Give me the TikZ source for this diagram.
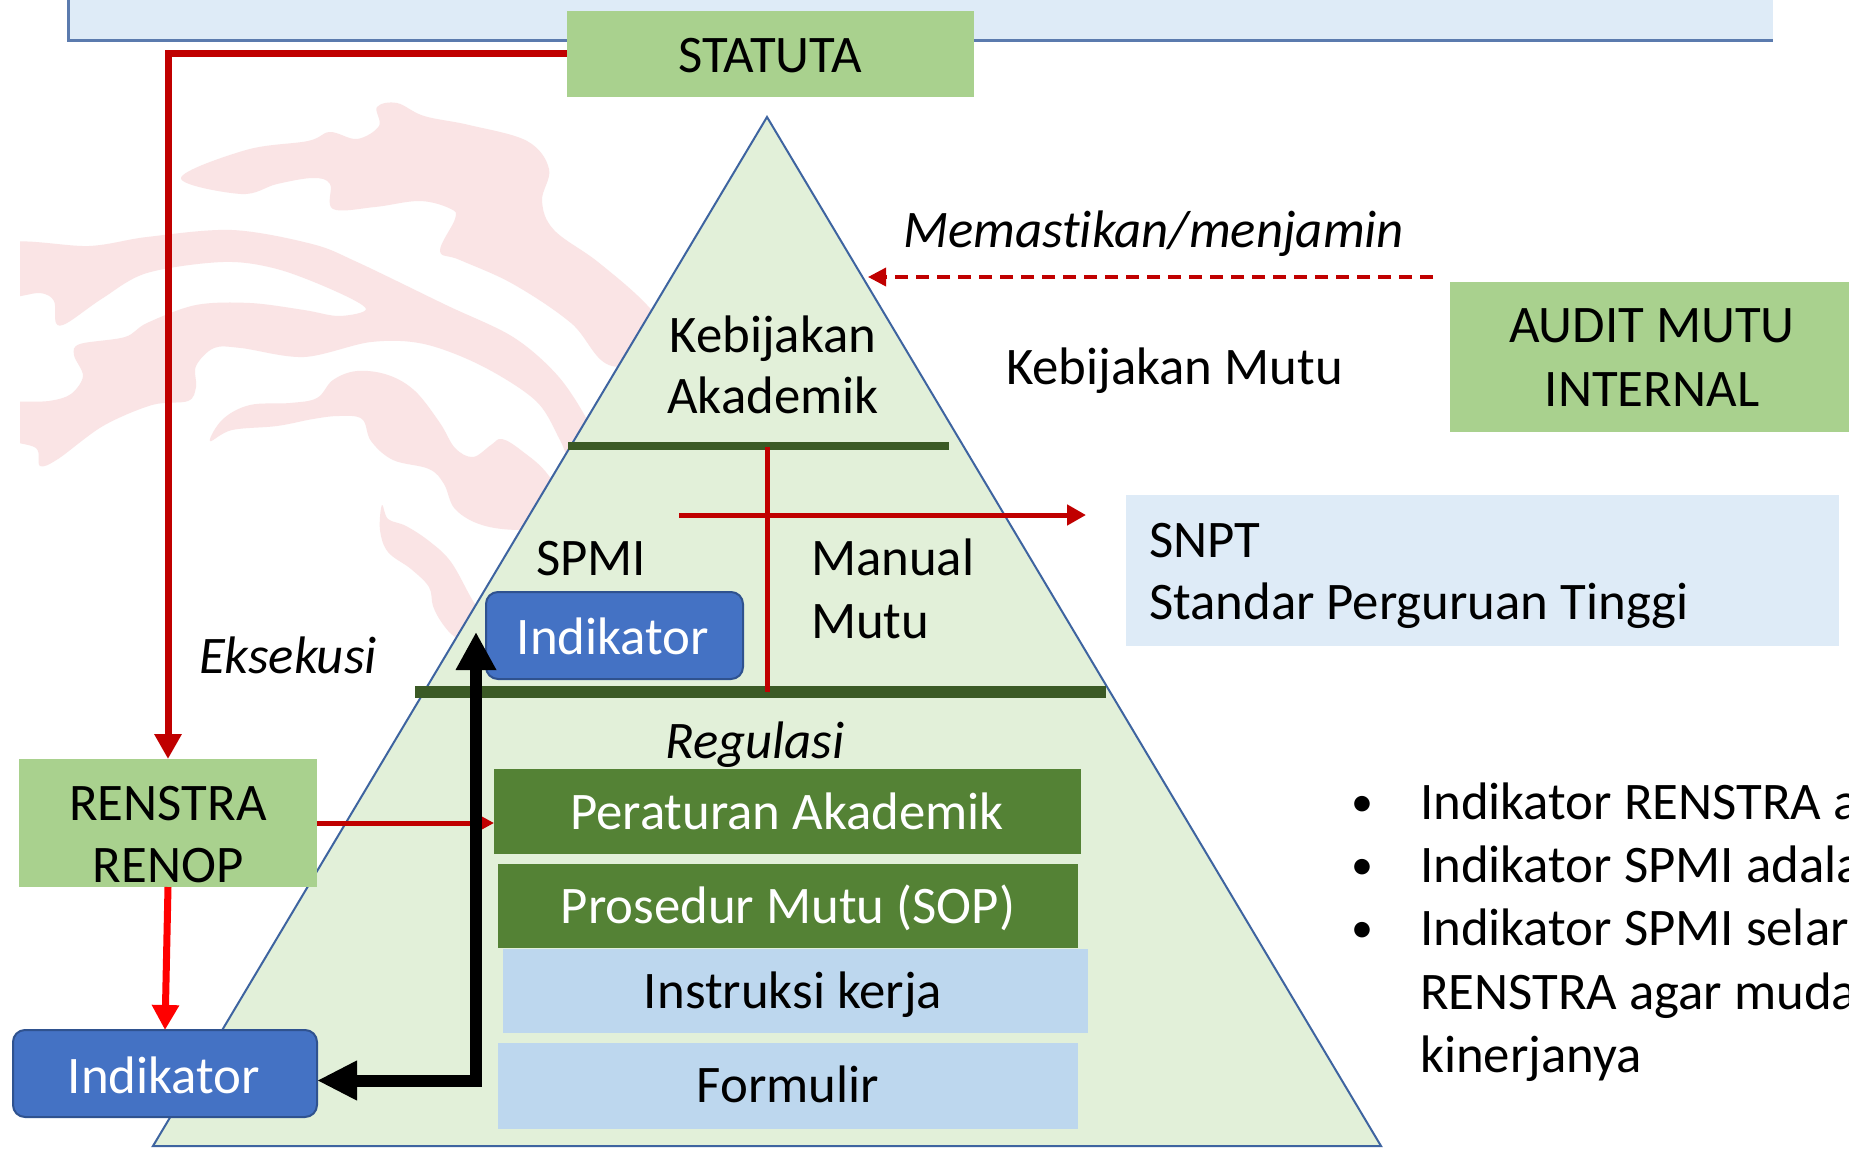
\documentclass[tikz,border=0pt]{standalone}
\usepackage{fontspec}
\setmainfont{Carlito}[Ligatures={NoCommon}]
\usetikzlibrary{arrows.meta}
\definecolor{topfill}{HTML}{DEEBF7}
\definecolor{topline}{HTML}{5B7BAE}
\definecolor{lgreen}{HTML}{A9D18E}
\definecolor{dgreen}{HTML}{548235}
\definecolor{bargreen}{HTML}{3B5A25}
\definecolor{lblue}{HTML}{BDD7EE}
\definecolor{pblue}{HTML}{DEEBF7}
\definecolor{indblue}{HTML}{4472C4}
\definecolor{indline}{HTML}{2F528F}
\definecolor{trifill}{HTML}{E2F0D9}
\definecolor{triline}{HTML}{3E64A0}
\definecolor{darkred}{HTML}{C00000}
\definecolor{wmpink}{RGB}{250,228,229}
\begin{document}
\begin{tikzpicture}[x=1pt,y=-1pt,
  box/.style={rectangle, inner sep=0pt, outer sep=0pt, draw=none},
  indbox/.style={rectangle, rounded corners=12pt, fill=indblue, draw=indline, line width=2pt, inner sep=0pt, outer sep=0pt},
  bar/.style={rectangle, inner sep=0pt, outer sep=0pt, fill=bargreen},
  txt/.style={inner sep=0pt, outer sep=0pt, anchor=base, font=\fontsize{52.8}{62}\selectfont},
  ltxt/.style={txt, anchor=base west},
  itxt/.style={txt, font=\fontsize{52.8}{62}\selectfont\itshape},
  wtxt/.style={txt, text=white},
  bultxt/.style={txt, font=\fontsize{44}{50}\selectfont},
  redthick/.style={darkred, line width=7pt},
  redthin/.style={darkred, line width=5pt}
]
\useasboundingbox (0,0) rectangle (1849,1148);
\clip (0,0) rectangle (1849,1148);
\fill[white] (0,0) rectangle (1849,1148);

% watermark
\begin{scope}
\clip (20,0) rectangle (1849,1148);
\fill[wmpink] plot[smooth cycle, tension=0.6] coordinates {(181,178) (246,150) (308,141) (330,132) (357,139) (379,126) (377,107) (397,103) (424,116) (469,125) (527,141) (549,169) (542,201) (554,230) (598,262) (647,305) (680,350) (612,366) (571,323) (513,284) (460,260) (440,251) (455,219) (451,209) (420,201) (375,207) (333,209) (330,184) (313,178) (277,184) (241,194)};
\fill[wmpink] plot[smooth cycle, tension=0.55] coordinates {(5,244) (89,246) (147,237) (232,230) (312,244) (357,262) (446,305) (513,337) (558,376) (589,423) (610,470) (575,470) (560,440) (536,401) (482,366) (424,344) (371,342) (304,357) (241,348) (214,348) (196,366) (196,387) (188,401) (152,405) (103,426) (58,459) (40,466) (36,448) (5,437) (5,405) (49,401) (71,394) (83,376) (74,355) (80,344) (125,337) (147,323) (196,305) (250,303) (304,310) (339,316) (366,309) (335,291) (277,269) (223,262) (147,273) (103,298) (67,323) (56,323) (54,301) (40,293) (5,294)};
\fill[wmpink] plot[smooth cycle, tension=0.6] coordinates {(210,441) (223,419) (250,405) (290,403) (317,398) (333,380) (357,371) (388,375) (415,391) (440,423) (455,448) (473,457) (491,445) (502,439) (522,451) (549,476) (575,525) (522,530) (482,525) (455,509) (444,484) (429,469) (393,460) (371,441) (362,419) (339,416) (313,419) (277,426) (232,430)};
\fill[wmpink] plot[smooth cycle, tension=0.6] coordinates {(382,505) (388,519) (406,526) (429,541) (451,562) (473,601) (490,625) (470,640) (455,637) (442,623) (433,606) (429,587) (411,569) (388,552) (380,530)};
\end{scope}

% top bar
\fill[topfill] (68,-10) rectangle (1773,41);
\draw[topline, line width=3pt] (68,-10) -- (68,41) -- (1773,41);

% pyramid
\filldraw[fill=trifill, draw=triline, line width=2pt] (767,117) -- (1381,1146) -- (153,1146) -- cycle;

% boxes
\node[box, fill=lgreen, minimum width=407pt, minimum height=86pt] (statuta) at (770.5,54) {};
\node[box, fill=lgreen, minimum width=410pt, minimum height=150pt] (audit) at (1655,357) {};
\node[box, fill=pblue, minimum width=713pt, minimum height=151pt] (snpt) at (1482.5,570.5) {};
\node[box, fill=lgreen, minimum width=298pt, minimum height=128pt] (renstra) at (168,823) {};
\node[box, fill=dgreen, minimum width=587pt, minimum height=85pt] (peraturan) at (787.5,811.5) {};
\node[box, fill=dgreen, minimum width=580pt, minimum height=84pt] (prosedur) at (788,906) {};
\node[box, fill=lblue, minimum width=585pt, minimum height=84pt] (instruksi) at (795.5,991) {};
\node[box, fill=lblue, minimum width=580pt, minimum height=86pt] (formulir) at (788,1086) {};
\node[indbox, minimum width=257pt, minimum height=87pt] (upInd) at (614.5,635.5) {};
\node[indbox, minimum width=304pt, minimum height=87pt] (lowInd) at (165,1073.5) {};

% bars
\node[bar, minimum width=381pt, minimum height=8pt] (bar1) at (758.5,446) {};
\node[bar, minimum width=691pt, minimum height=12pt] (bar2) at (760.5,692) {};

% red cross
\coordinate (crossTop) at (767,447);
\draw[redthin] (crossTop) -- (crossTop |- bar2.center);
\coordinate (crossL) at (679,515);
\coordinate (crossR) at (1086,515);
\draw[redthin, -{Triangle[length=19pt,width=20pt]}] (crossL) -- (crossR);

% texts
\node[txt] (tStatuta) at (770,72) {STATUTA};
\node[txt] (tKeb) at (773,352) {Kebijakan};
\node[txt] (tAka) at (773,413) {Akademik};
\node[itxt, anchor=base west] (tMem) at (903,247) {Memastikan/menjamin};
\node[ltxt] (tKebMutu) at (1006,384) {Kebijakan Mutu};
\node[txt] (tAudit1) at (1652,342) {AUDIT MUTU};
\node[txt] (tAudit2) at (1652,406) {INTERNAL};
\node[ltxt] (tSnpt1) at (1149,557) {SNPT};
\node[ltxt] (tSnpt2) at (1149,619) {Standar Perguruan Tinggi};
\node[txt] (tSpmi) at (591,575) {SPMI};
\node[ltxt] (tManual) at (811,575) {Manual};
\node[ltxt] (tMutu) at (811,638) {Mutu};
\node[wtxt] (tUpInd) at (613,654) {Indikator};
\node[itxt, anchor=base west] (tEks) at (199,673) {Eksekusi};
\node[itxt] (tReg) at (755,758) {Regulasi};
\node[wtxt] (tPer) at (787,829) {Peraturan Akademik};
\node[wtxt] (tPro) at (788,923) {Prosedur Mutu (SOP)};
\node[txt] (tIns) at (793,1008) {Instruksi kerja};
\node[txt] (tFor) at (788,1102) {Formulir};
\node[txt] (tRen1) at (168,820) {RENSTRA};
\node[txt] (tRen2) at (168,882) {RENOP};
\node[wtxt] (tLowInd) at (164,1093) {Indikator};

% bullets
\node[bultxt] (bul1) at (1362,816) {•};
\node[bultxt] (bul2) at (1362,879) {•};
\node[bultxt] (bul3) at (1362,942) {•};
\node[ltxt] (l1) at (1420,819) {Indikator RENSTRA a};
\node[ltxt] (l2) at (1420,882) {Indikator SPMI adala};
\node[ltxt] (l3) at (1420,945) {Indikator SPMI selar};
\node[ltxt] (l4) at (1420,1009) {RENSTRA agar muda};
\node[ltxt] (l5) at (1420,1072) {kinerjanya};

% connectors
\draw[redthick, -{Triangle[length=25pt,width=26pt]}] (statuta.west) -| (renstra.north);
\draw[red, line width=7pt, -{Triangle[length=25pt,width=26pt]}] (renstra.south) -- (lowInd.north);
\draw[redthin, -{Triangle[length=13pt,width=13pt]}] (renstra.east) -- (renstra.east -| peraturan.west);
\coordinate (dashR) at (1433,277);
\coordinate (dashL) at (868,277);
\draw[darkred, line width=3.5pt, dash pattern=on 13pt off 8pt, -{Triangle[length=18pt,width=18pt]}] (dashR) -- (dashL);
\coordinate (upTip) at (476,632);
\draw[black, line width=12pt, {Triangle[length=38pt,width=38pt]}-{Triangle[length=40pt,width=37pt]}] (upTip) |- ([yshift=-7pt]lowInd.east);
\end{tikzpicture}
\end{document}
